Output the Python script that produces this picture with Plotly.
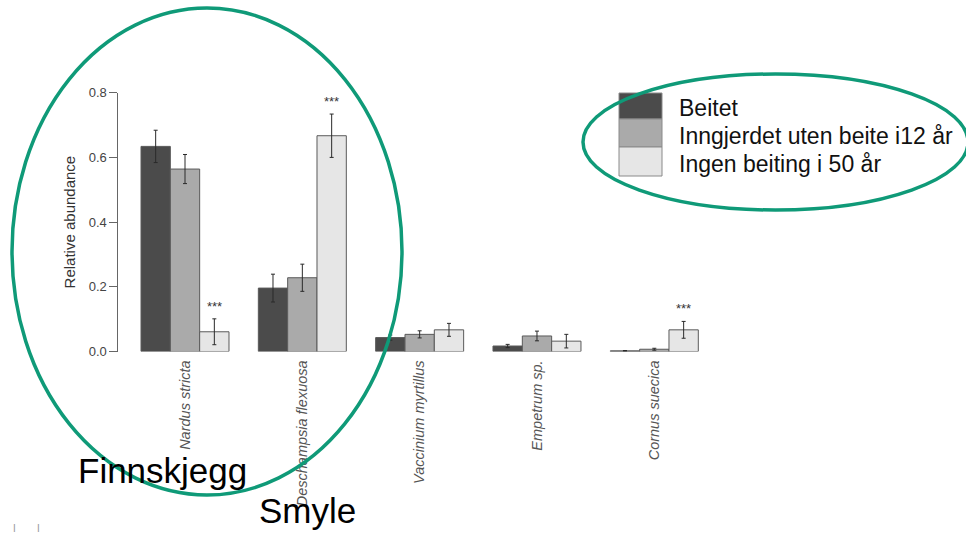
import plotly.graph_objects as go

# ---------------- data ----------------
categories = ["Nardus stricta", "Deschampsia flexuosa", "Vaccinium myrtillus",
              "Empetrum sp.", "Cornus suecica"]
series_names = ["Beitet", "Inngjerdet uten beite i12 år", "Ingen beiting i 50 år"]
series_colors = ["#4b4b4b", "#aaaaaa", "#e6e6e6"]

beitet = [0.634, 0.196, 0.043, 0.017, 0.002]
inngjerdet = [0.564, 0.228, 0.053, 0.048, 0.007]
ingen = [0.061, 0.667, 0.067, 0.032, 0.067]

beitet_err = [0.050, 0.043, 0.008, 0.005, 0.001]
inngjerdet_err = [0.045, 0.042, 0.011, 0.015, 0.003]
ingen_err = [0.040, 0.067, 0.020, 0.021, 0.026]

# significance marks: (category index, series index)
sig_marks = [(0, 2), (1, 2), (4, 2)]
sig_text = "***"

y_ticks = [0.0, 0.2, 0.4, 0.6, 0.8]
y_title = "Relative abundance"

callouts = ["Finnskjegg", "Smyle"]

values = [beitet, inngjerdet, ingen]
errors = [beitet_err, inngjerdet_err, ingen_err]

W, H = 966, 534
FONT = "Liberation Sans, Arial, Helvetica, sans-serif"
GREEN = "#0f9a78"


def px(x):
    return x / W


def py(y):
    return 1 - y / H


fig = go.Figure()
for name, col, vals, errs in zip(series_names, series_colors, values, errors):
    fig.add_trace(go.Bar(
        x=categories, y=vals, name=name,
        marker=dict(color=col, line=dict(color="#5a5a5a", width=1)),
        error_y=dict(type="data", array=errs, visible=True,
                     color="#2a2a2a", thickness=1, width=2),
        showlegend=False,
    ))

annotations = []
bar_w = 0.25
for ci, si in sig_marks:
    top = values[si][ci] + errors[si][ci]
    annotations.append(dict(
        x=ci + (si - 1) * bar_w, y=top + 0.048, xref="x", yref="y",
        text=sig_text, showarrow=False, yshift=-3,
        font=dict(family=FONT, size=13, color="#333333"),
    ))

# custom legend
sw_x0, sw_x1 = 619, 662
sw_y = [93, 119, 147, 176]
text_base = [115, 143.3, 171.7]
shapes = []
for i, (name, col) in enumerate(zip(series_names, series_colors)):
    shapes.append(dict(type="rect", xref="paper", yref="paper",
                       x0=px(sw_x0), x1=px(sw_x1), y0=py(sw_y[i + 1]), y1=py(sw_y[i]),
                       fillcolor=col, line=dict(color="#8a8a8a", width=1), layer="above"))
    annotations.append(dict(
        x=px(677), y=py(text_base[i] - 7.5), xref="paper", yref="paper",
        xanchor="left", yanchor="middle", text=name, showarrow=False,
        font=dict(family=FONT, size=23, color="#111111"),
    ))

# green callout ellipses
shapes.append(dict(type="circle", xref="paper", yref="paper",
                   x0=px(12), x1=px(402), y0=py(495), y1=py(8),
                   line=dict(color=GREEN, width=3.5), layer="above"))
shapes.append(dict(type="circle", xref="paper", yref="paper",
                   x0=px(583), x1=px(968), y0=py(210), y1=py(74),
                   line=dict(color=GREEN, width=3.5), layer="above"))

# callout labels
annotations.append(dict(x=px(76), y=py(483 - 13), xref="paper", yref="paper",
                        xanchor="left", yanchor="middle", text=callouts[0], showarrow=False,
                        font=dict(family=FONT, size=35, color="#000000")))
annotations.append(dict(x=px(257), y=py(522 - 11.5), xref="paper", yref="paper",
                        xanchor="left", yanchor="middle", text=callouts[1], showarrow=False,
                        font=dict(family=FONT, size=35, color="#000000")))

# tiny marks bottom-left
for mx in [11, 35]:
    annotations.append(dict(x=px(mx), y=py(536), xref="paper", yref="paper",
                            text="I", showarrow=False, yanchor="bottom",
                            font=dict(family=FONT, size=10, color="#999999")))

fig.update_layout(
    width=W, height=H,
    margin=dict(l=0, r=0, t=0, b=0, pad=0),
    paper_bgcolor="white", plot_bgcolor="white",
    barmode="group", bargap=0.25, bargroupgap=0,
    font=dict(family=FONT, color="#333333"),
    shapes=shapes, annotations=annotations,
    xaxis=dict(
        domain=[px(118.4), px(720.3)],
        range=[-0.5676, 4.5624],
        automargin=False,
        showline=False, showgrid=False, zeroline=False, ticks="",
        tickangle=-90, ticklabelstandoff=5,
        tickmode="array", tickvals=categories,
        ticktext=["<i>" + c + "</i>" for c in categories],
        tickfont=dict(family=FONT, size=14.5, color="#555555"),
    ),
    yaxis=dict(
        domain=[py(351.5), py(92.7)],
        range=[0, 0.8],
        automargin=False,
        tickvals=y_ticks, ticktext=[f"{v:.1f}" for v in y_ticks],
        showline=True, linecolor="#666666", linewidth=1,
        ticks="outside", ticklen=8, tickcolor="#666666",
        showgrid=False, zeroline=False,
        tickfont=dict(family=FONT, size=13, color="#444444"),
        title=dict(text=y_title, standoff=9,
                   font=dict(family=FONT, size=15, color="#333333")),
    ),
)

fig.write_html("out.html",
               config={"displayModeBar": False},
               post_script="document.body.style.margin='0';document.body.style.overflow='hidden';")
